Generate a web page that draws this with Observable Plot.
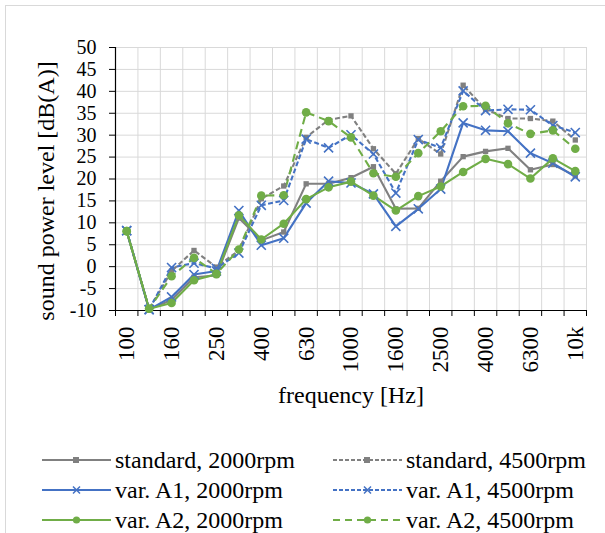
<!DOCTYPE html>
<html>
<head>
<meta charset="utf-8">
<script src="https://cdn.jsdelivr.net/npm/d3@7"></script>
<script src="https://cdn.jsdelivr.net/npm/@observablehq/plot@0.6"></script>
<style>
  html, body { margin: 0; padding: 0; background: #fff; }
  body { width: 605px; height: 533px; position: relative; overflow: hidden;
         font-family: "Liberation Serif", "LiberationSerif", "Tinos", "Times New Roman", "DejaVu Serif", serif; }
  #frame { position: absolute; left: 5px; top: 5px; width: 800px; height: 800px;
           border-left: 1px solid #d9d9d9; border-top: 1px solid #d9d9d9; }
  #chart { position: absolute; left: 0; top: 0; }
  #chart svg, #chart svg text { font-family: "Liberation Serif", "LiberationSerif", "Tinos", "Times New Roman", "DejaVu Serif", serif !important; }
  .leg { position: absolute; display: flex; align-items: center; font-size: 24px; line-height: 1; white-space: nowrap; }
  .leg svg { margin-right: 3px; }
</style>
</head>
<body>
<div id="frame"></div>
<div id="chart"></div>
<div id="legend"></div>
<script>
// ---- data ----
const categories = ["100","125","160","200","250","315","400","500","630","800","1000","1250","1600","2000","2500","3150","4000","5000","6300","8000","10k"];
const labelIndices = [0, 2, 4, 6, 8, 10, 12, 14, 16, 18, 20];
const yTicks = [-10, -5, 0, 5, 10, 15, 20, 25, 30, 35, 40, 45, 50];
const yTitle = "sound power level [dB(A)]";
const xTitle = "frequency [Hz]";

const standard2000 = [8.0, -9.7, -7.6, -2.4, -2.0, 11.1, 6.0, 7.9, 18.9, 18.9, 20.3, 22.8, 13.2, 13.3, 19.5, 25.1, 26.3, 27.0, 22.1, 23.3, 20.7];
const standard4500 = [8.1, -9.7, -1.0, 3.7, -0.1, 3.7, 15.5, 18.4, 29.5, 33.5, 34.4, 26.9, 21.2, 29.2, 25.7, 41.4, 35.9, 33.8, 33.8, 33.2, 28.9];
const varA1_2000 = [8.2, -9.8, -6.9, -1.8, -1.0, 12.8, 4.9, 6.5, 14.5, 19.5, 19.1, 16.6, 9.2, 13.2, 17.7, 32.8, 31.1, 30.9, 25.9, 23.6, 20.5];
const varA1_4500 = [8.2, -9.8, -0.2, 0.8, -0.4, 3.1, 14.0, 15.1, 29.1, 27.1, 30.1, 25.7, 16.8, 29.0, 27.1, 40.1, 35.6, 35.9, 35.8, 32.2, 30.6];
const varA2_2000 = [8.1, -9.6, -8.3, -3.1, -1.7, 11.7, 6.2, 9.8, 15.4, 18.1, 19.4, 16.2, 12.8, 16.1, 18.3, 21.6, 24.6, 23.4, 20.1, 24.7, 21.8];
const varA2_4500 = [8.1, -9.6, -2.2, 2.0, -1.6, 3.9, 16.2, 16.3, 35.2, 33.2, 29.5, 21.3, 20.5, 25.9, 30.9, 36.6, 36.7, 32.7, 30.3, 31.1, 26.9];

const seriesNames = ["standard, 2000rpm","standard, 4500rpm","var. A1, 2000rpm","var. A1, 4500rpm","var. A2, 2000rpm","var. A2, 4500rpm"];
const seriesValues = [standard2000, standard4500, varA1_2000, varA1_4500, varA2_2000, varA2_4500];

// ---- styles ----
const FONT = '"Liberation Serif", "LiberationSerif", "Tinos", "Times New Roman", "DejaVu Serif", serif';
const GREY = "#808080", BLUE = "#4472C4", GREEN = "#70AD47";
const styles = [
  {color: GREY,  dash: null,  symbol: "square", r: 3},
  {color: GREY,  dash: "5,2.5", symbol: "square", r: 3},
  {color: BLUE,  dash: null,  symbol: "times", r: 4.2},
  {color: BLUE,  dash: "5,2.5", symbol: "times", r: 4.2},
  {color: GREEN, dash: null,  symbol: "circle", r: 4.3},
  {color: GREEN, dash: "8,5", symbol: "circle", r: 4.3}
];

const boundaries = d3.range(categories.length + 1).map(i => i - 0.5);

const lineMarks = [];
const dotMarks = [];
seriesValues.forEach((vals, s) => {
  const st = styles[s];
  const data = vals.map((v, i) => ({i, v}));
  lineMarks.push(Plot.line(data, {x: "i", y: "v", stroke: st.color, strokeWidth: 2.1,
    strokeDasharray: st.dash, strokeLinejoin: "round", strokeLinecap: "butt"}));
  if (st.symbol === "times") {
    dotMarks.push(Plot.dot(data, {x: "i", y: "v", symbol: "times", r: st.r, stroke: st.color, strokeWidth: 1.6, fill: "none"}));
  } else {
    dotMarks.push(Plot.dot(data, {x: "i", y: "v", symbol: st.symbol, r: st.r, fill: st.color, stroke: "none"}));
  }
});

const plot = Plot.plot({
  width: 605, height: 420,
  marginLeft: 115, marginRight: 19, marginTop: 47, marginBottom: 110,
  style: {fontFamily: FONT, fontSize: "20px", color: "#000", background: "transparent"},
  x: {domain: [-0.5, categories.length - 0.5]},
  y: {domain: [-10, 50]},
  marks: [
    Plot.gridY(yTicks, {stroke: "#d9d9d9", strokeOpacity: 1, strokeWidth: 1}),
    Plot.gridX(boundaries, {stroke: "#d9d9d9", strokeOpacity: 1, strokeWidth: 1}),
    Plot.axisY(yTicks, {tickSize: 6, tickPadding: 13, fontSize: 20, label: null, stroke: "#000",
      tickFormat: d => String(d)}),
    Plot.axisX(boundaries, {tickSize: 6, tickFormat: () => "", label: null, stroke: "#000"}),
    Plot.axisX(labelIndices, {tickSize: 0, tickPadding: 16, tickRotate: -90, fontSize: 23,
      tickFormat: i => categories[i], label: null}),
    Plot.ruleY([-10], {stroke: "#000", strokeWidth: 1.2}),
    Plot.ruleX([-0.5], {stroke: "#000", strokeWidth: 1.2}),
    ...lineMarks,
    ...dotMarks,
    Plot.text([xTitle], {frameAnchor: "bottom", dy: 85, fontSize: 24, textAnchor: "middle", lineAnchor: "middle", fill: "#000"}),
    Plot.text([yTitle], {frameAnchor: "left", rotate: -90, dx: -69, dy: 12, fontSize: 24, textAnchor: "middle", lineAnchor: "middle", fill: "#000"})
  ]
});
document.getElementById("chart").appendChild(plot);

// ---- legend ----
const legend = document.getElementById("legend");
const legendCols = [42, 333];
const legendRows = [460, 490, 520];
seriesNames.forEach((name, s) => {
  const st = styles[s];
  const col = s % 2, row = Math.floor(s / 2);
  const item = document.createElement("div");
  item.className = "leg";
  item.style.left = legendCols[col] + "px";
  item.style.top = (legendRows[row] - 12) + "px";
  item.style.height = "24px";
  let marker;
  if (st.symbol === "square") marker = `<rect x="31" y="4" width="6" height="6" fill="${st.color}"/>`;
  else if (st.symbol === "times") marker = `<path d="M31 3.5 L38 10.5 M38 3.5 L31 10.5" stroke="${st.color}" stroke-width="1.5"/>`;
  else marker = `<circle cx="34.5" cy="7" r="3.6" fill="${st.color}"/>`;
  item.innerHTML = `<svg width="70" height="14" viewBox="0 0 70 14"><line x1="0" y1="7" x2="69" y2="7" stroke="${st.color}" stroke-width="2" ${st.dash ? `stroke-dasharray="${st.dash === "8,5" ? "7,5" : "4,2"}"` : ""}/>${marker}</svg><span>${name}</span>`;
  legend.appendChild(item);
});
</script>
</body>
</html>
